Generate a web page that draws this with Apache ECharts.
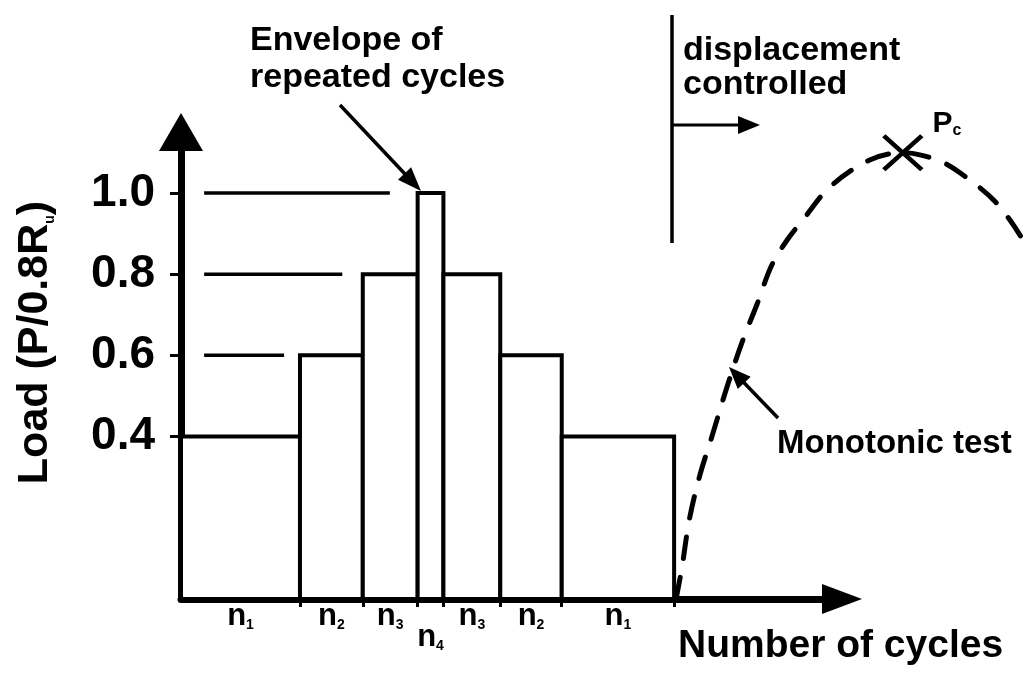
<!DOCTYPE html>
<html>
<head>
<meta charset="utf-8">
<script src="https://cdn.jsdelivr.net/npm/echarts@6/dist/echarts.min.js"></script>
<style>
html, body { margin: 0; padding: 0; background: #fff; }
#main { width: 1029px; height: 674px; }
</style>
</head>
<body>
<div id="main"></div>
<script>
// load blocks of the repeated-cycle test (edges on the cycle axis, load per block)
var cycleEdges = [0, 18, 27.5, 35.8, 39.7, 48.3, 57.6, 74.6];
var blockLoads = [0.4, 0.6, 0.8, 1.0, 0.8, 0.6, 0.4];
var blockLabels = ['1', '2', '3', '4', '3', '2', '1'];
var loadTicks = [0.4, 0.6, 0.8, 1.0];

// level guides from the load axis toward each new block
var guideLevels = [0.6, 0.8, 1.0];
var guideStart = [3.5, 3.5, 3.5];
var guideEnd = [15.6, 24.4, 31.6];

// monotonic test (dashed curve) and its peak Pc
var monoX = [74.9, 75.8, 76.9, 78.5, 80.3, 82.6, 84.9, 87.1, 89.4, 91.7, 94.1, 98.2, 104.2, 109.2, 114.4, 117.9, 123.4, 127.4];
var monoY = [0.0, 0.079, 0.195, 0.305, 0.399, 0.522, 0.633, 0.724, 0.823, 0.884, 0.934, 1.015, 1.081, 1.099, 1.081, 1.049, 0.975, 0.884];
var peakPoint = [109.2, 1.099];

var FONT = 'Liberation Sans, Arial, Helvetica, sans-serif';

var blockData = blockLoads.map(function (v, i) {
	return [cycleEdges[i], cycleEdges[i + 1], v];
});
var guideData = guideLevels.map(function (v, i) {
	return [guideStart[i], guideEnd[i], v];
});
var monoData = monoX.map(function (x, i) {
	return [x, monoY[i]];
});

function arrowHead(tip, from, len, half) {
	var dx = tip[0] - from[0], dy = tip[1] - from[1];
	var d = Math.sqrt(dx * dx + dy * dy);
	var ux = dx / d, uy = dy / d;
	var bx = tip[0] - ux * len, by = tip[1] - uy * len;
	return [tip, [bx - uy * half, by + ux * half], [bx + uy * half, by - ux * half]];
}

function arrow(from, tip, width, len, half) {
	var dx = tip[0] - from[0], dy = tip[1] - from[1];
	var d = Math.sqrt(dx * dx + dy * dy);
	var end = [tip[0] - dx / d * (len - 2), tip[1] - dy / d * (len - 2)];
	return [
		{ type: 'line', shape: { x1: from[0], y1: from[1], x2: end[0], y2: end[1] }, style: { stroke: '#000', lineWidth: width } },
		{ type: 'polygon', shape: { points: arrowHead(tip, from, len, half) }, style: { fill: '#000' } }
	];
}

function label(text, x, y, size) {
	return {
		type: 'text', x: x, y: y,
		style: { text: text, font: 'bold ' + size + 'px ' + FONT, fill: '#000', align: 'left', verticalAlign: 'middle' }
	};
}

var graphics = [
	label('Envelope of', 250, 41, 34),
	label('repeated cycles', 250, 78, 34),
	label('displacement', 683, 51, 34),
	label('controlled', 683, 85, 34),
	label('Monotonic test', 777, 444, 33),
	label('Number of cycles', 678, 646, 39),
	{ type: 'line', shape: { x1: 672, y1: 15, x2: 672, y2: 243 }, style: { stroke: '#000', lineWidth: 3.5 } }
]
	.concat(arrow([340, 105], [421, 191], 3.5, 24, 9))
	.concat(arrow([672, 125], [760, 125], 3, 22, 9))
	.concat(arrow([778, 418], [729, 367], 3.5, 22, 9));

var chart = echarts.init(document.getElementById('main'));
var option = {
	backgroundColor: '#fff',
	animation: false,
	grid: { left: 181, right: 187, top: 132, bottom: 75 },
	xAxis: {
		type: 'value', min: 0, max: 100,
		axisLine: { show: true, lineStyle: { color: '#000', width: 7 }, symbol: ['none', 'triangle'], symbolSize: [30, 40] },
		axisTick: { show: true, customValues: cycleEdges.slice(1), length: 8, lineStyle: { color: '#000', width: 3 } },
		axisLabel: { show: false },
		splitLine: { show: false }
	},
	yAxis: {
		type: 'value', min: 0, max: 1.15,
		axisLine: { show: true, lineStyle: { color: '#000', width: 7 }, symbol: ['none', 'triangle'], symbolSize: [44, 38] },
		axisTick: { show: true, customValues: loadTicks, length: 11, lineStyle: { color: '#000', width: 3 } },
		axisLabel: {
			customValues: loadTicks, margin: 26, color: '#000', fontSize: 46, fontWeight: 'bold', fontFamily: FONT,
			formatter: function (v) { return v.toFixed(1); }
		},
		splitLine: { show: false },
		name: 'Load (P/0.8R{s|u})',
		nameLocation: 'middle', nameRotate: 90, nameGap: 124,
		nameTextStyle: {
			color: '#000', fontSize: 43, fontWeight: 'bold', fontFamily: FONT, padding: [0, 0, 0, 46],
			rich: { s: { fontSize: 14, fontWeight: 'bold', fontFamily: FONT, color: '#000', verticalAlign: 'bottom', lineHeight: 12 } }
		}
	},
	series: [
		{
			type: 'custom', name: 'guides', clip: false, z: 3,
			data: guideData,
			renderItem: function (params, api) {
				var a = api.coord([api.value(0), api.value(2)]);
				var b = api.coord([api.value(1), api.value(2)]);
				return { type: 'line', shape: { x1: a[0], y1: a[1], x2: b[0], y2: b[1] }, style: { stroke: '#000', lineWidth: 3.5 } };
			}
		},
		{
			type: 'custom', name: 'blocks', clip: false, z: 3,
			data: blockData,
			renderItem: function (params, api) {
				var p0 = api.coord([api.value(0), api.value(2)]);
				var p1 = api.coord([api.value(1), 0]);
				var w = p1[0] - p0[0];
				return {
					type: 'group',
					children: [
						{ type: 'rect', shape: { x: p0[0], y: p0[1], width: w, height: p1[1] - p0[1] }, style: { fill: '#fff', stroke: '#000', lineWidth: 4 } },
						{
							type: 'text', x: (p0[0] + p1[0]) / 2, y: p1[1] + (w < 35 ? 54 : 33),
							style: {
								text: '{n|n}{s|' + blockLabels[params.dataIndex] + '}',
								align: 'center', verticalAlign: 'bottom',
								rich: {
									n: { fontSize: 31, lineHeight: 30, fontWeight: 'bold', fontFamily: FONT, fill: '#000', verticalAlign: 'bottom' },
									s: { fontSize: 14, lineHeight: 10, fontWeight: 'bold', fontFamily: FONT, fill: '#000', verticalAlign: 'bottom' }
								}
							}
						}
					]
				};
			}
		},
		{
			// the curve runs past the end of the cycle axis, so it is drawn unclipped as one polyline
			type: 'custom', name: 'Monotonic test', clip: false, z: 4,
			data: monoData,
			renderItem: function (params, api) {
				if (params.dataIndex !== 0) return;
				var pts = monoData.map(function (p) { return api.coord(p); });
				return {
					type: 'polyline', shape: { points: pts, smooth: 0.35 },
					style: { fill: null, stroke: '#000', lineWidth: 5, lineDash: [22, 19], lineCap: 'round' }
				};
			}
		},
		{
			type: 'scatter', name: 'Pc', clip: false, z: 5,
			data: [peakPoint],
			symbol: 'path://M0,0L10,10M10,0L0,10', symbolSize: [38, 34],
			itemStyle: { color: 'transparent', borderColor: '#000', borderWidth: 4.5, opacity: 1 },
			label: {
				show: true, position: [51, 5], align: 'left', verticalAlign: 'bottom',
				formatter: 'P{s|c}',
				rich: {
					s: { fontSize: 16, lineHeight: 10, fontWeight: 'bold', fontFamily: FONT, color: '#000', verticalAlign: 'bottom' }
				},
				fontSize: 30, lineHeight: 30, fontWeight: 'bold', fontFamily: FONT, color: '#000'
			}
		}
	],
	graphic: graphics
};
chart.setOption(option);
</script>
</body>
</html>
